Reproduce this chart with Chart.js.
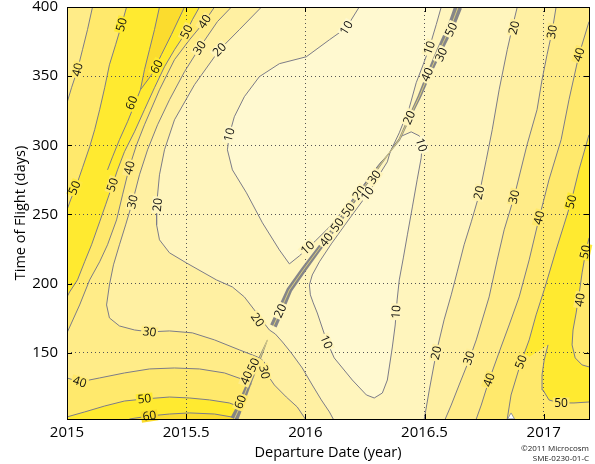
<!DOCTYPE html>
<html>
<head>
<meta charset="utf-8">
<script src="https://cdn.jsdelivr.net/npm/chart.js@4.4.1/dist/chart.umd.min.js"></script>
<style>
  html, body { margin: 0; padding: 0; background: #fff; }
</style>
</head>
<body>
<canvas id="porkchop" width="595" height="464"></canvas>
<script>
// AXES
var xTicks = [2015, 2015.5, 2016, 2016.5, 2017];
var yTicks = [150, 200, 250, 300, 350, 400];
var xMin = 2015, xMax = 2017.19, yMin = 102, yMax = 400;

// CONTOUR LINES ( [departure year, time of flight days])
var c10a = [[2016.226,400],[2016.172,385.0],[2016.101,376.3],[2016.004,364.0],[2015.891,359.0],[2015.807,349.6],[2015.744,335.1],[2015.702,320.6],[2015.681,307.6],[2015.673,296.7],[2015.694,282.2],[2015.753,265.6],[2015.820,243.9],[2015.891,224.3],[2015.933,214.2],[2015.975,220.0],[2016.042,230.8],[2016.097,240.2],[2016.147,250.4],[2016.193,259.8],[2016.239,269.9],[2016.281,280.1],[2016.318,288.0],[2016.344,292.4],[2016.356,295.3],[2016.394,309.0],[2016.436,327.1],[2016.465,345.2],[2016.494,358.2],[2016.520,370.5],[2016.549,387.2],[2016.570,400]];
var c10b = [[2016.356,295.3],[2016.344,288.0],[2016.310,278.6],[2016.268,266.3],[2016.218,254.7],[2016.163,241.7],[2016.109,228.7],[2016.059,215.7],[2016.029,206.2],[2016.017,199.0],[2016.021,191.8],[2016.033,186.0],[2016.050,178.7],[2016.067,170.0],[2016.088,159.2],[2016.121,146.2],[2016.197,130.2],[2016.256,119.4],[2016.289,117.2],[2016.323,120.8],[2016.344,130.2],[2016.365,154.1],[2016.377,170.0],[2016.385,188.1],[2016.394,202.6],[2016.411,218.5],[2016.428,235.2],[2016.449,255.4],[2016.469,275.0],[2016.486,290.9],[2016.490,300.3],[2016.478,306.8],[2016.444,309.7],[2016.406,306.8],[2016.373,300.3],[2016.356,295.3]];
var c20L = [[2015.816,400],[2015.723,383.6],[2015.640,369.1],[2015.535,343.8],[2015.451,318.4],[2015.409,296.7],[2015.388,278.6],[2015.376,256.9],[2015.376,242.4],[2015.388,231.6],[2015.430,222.2],[2015.501,214.9],[2015.627,202.6],[2015.694,197.5],[2015.744,190.3],[2015.786,180.9],[2015.816,173.7],[2015.849,166.4],[2015.874,163.5],[2015.904,157.7],[2015.941,149.8],[2015.987,138.9],[2016.029,126.6],[2016.067,115.8],[2016.101,107.1],[2016.117,102]];
var c20R = [[2016.889,400],[2016.868,385.0],[2016.847,369.1],[2016.813,340.1],[2016.784,311.2],[2016.759,289.5],[2016.729,264.1],[2016.696,244.6],[2016.666,228.0],[2016.637,208.4],[2016.612,191.8],[2016.582,173.7],[2016.549,149.8],[2016.520,123.0],[2016.499,102]];
var c30La = [[2015.690,400],[2015.631,389.4],[2015.556,370.5],[2015.493,353.2],[2015.430,332.9],[2015.380,314.8],[2015.338,296.7],[2015.304,278.6],[2015.275,259.1],[2015.246,242.4],[2015.220,228.0],[2015.195,213.5],[2015.178,199.0],[2015.166,184.5],[2015.178,175.1],[2015.220,169.3],[2015.283,166.4],[2015.346,165.0],[2015.430,165.7],[2015.526,164.3],[2015.619,159.2],[2015.723,152.0],[2015.799,146.9],[2015.820,144.7]];
var c30Lb = [[2015.828,143.3],[2015.841,133.9],[2015.870,126.6],[2015.920,117.9],[2015.966,110.7],[2016.000,102]];
var c30R = [[2017.052,400],[2017.035,382.1],[2017.014,365.5],[2016.993,347.4],[2016.972,325.7],[2016.930,300.3],[2016.876,262.7],[2016.834,238.8],[2016.805,217.1],[2016.771,190.3],[2016.717,159.2],[2016.687,144.7],[2016.645,126.6],[2016.612,112.1],[2016.587,102]];
var c40a = [[2015.107,400],[2015.086,383.6],[2015.065,369.1],[2015.044,354.6],[2015.019,341.6],[2015.000,330.7]];
var c40b = [[2015.619,400],[2015.577,389.4],[2015.514,376.3],[2015.451,361.9],[2015.388,340.1],[2015.325,314.8],[2015.292,300.3],[2015.262,284.4],[2015.233,264.1],[2015.208,246.0],[2015.170,228.0],[2015.137,215.7],[2015.095,202.6],[2015.053,184.5],[2015.000,164.3]];
var c40c = [[2015.000,131.7],[2015.053,128.8],[2015.137,131.7],[2015.241,135.3],[2015.346,138.2],[2015.451,138.9],[2015.556,138.2],[2015.661,135.3],[2015.744,130.2],[2015.774,127.3]];
var c40R = [[2017.190,389.4],[2017.148,365.5],[2017.106,332.9],[2017.073,304.0],[2017.022,275.0],[2016.981,247.5],[2016.939,217.1],[2016.897,190.3],[2016.855,170.0],[2016.821,154.1],[2016.771,130.2],[2016.738,112.1],[2016.717,102]];
var c50a = [[2015.250,400],[2015.229,387.2],[2015.204,372.7],[2015.178,358.2],[2015.158,341.6],[2015.137,325.7],[2015.116,311.2],[2015.095,298.9],[2015.065,283.7],[2015.036,269.2],[2015.015,260.5],[2015.000,253.3]];
var c50b = [[2015.556,400],[2015.526,390.8],[2015.501,382.1],[2015.451,369.1],[2015.409,356.8],[2015.367,341.6],[2015.325,325.7],[2015.283,309.7],[2015.241,295.3],[2015.212,282.2],[2015.191,271.4],[2015.162,256.9],[2015.137,244.6],[2015.103,228.0],[2015.074,215.7],[2015.044,202.6],[2015.011,193.9],[2015.000,190.3]];
var c50c = [[2015.000,103.5],[2015.074,107.1],[2015.158,111.4],[2015.241,115.0],[2015.325,116.5],[2015.430,117.9],[2015.514,117.2],[2015.598,115.8],[2015.681,113.6],[2015.736,110.0]];
var c50R = [[2017.190,307.6],[2017.148,282.2],[2017.115,259.1],[2017.085,242.4],[2017.052,224.3],[2017.002,195.4],[2016.968,177.3],[2016.939,159.2],[2016.905,143.3],[2016.863,119.4],[2016.847,102]];
var c50loop = [[2017.190,233.0],[2017.174,220.7],[2017.161,207.7],[2017.148,191.8],[2017.136,178.7],[2017.123,166.4],[2017.119,155.6],[2017.132,146.2],[2017.161,141.1],[2017.190,139.7]];
var c50C = [[2017.190,114.3],[2017.127,113.6],[2017.064,113.6],[2017.022,115.8],[2016.997,123.0],[2016.993,133.9],[2017.002,144.7],[2017.018,155.6]];
var c60w = [[2015.388,400],[2015.367,383.6],[2015.346,369.1],[2015.325,354.6],[2015.308,340.1],[2015.355,351.0],[2015.396,365.5],[2015.438,380.0],[2015.493,400]];
var c60b = [[2015.262,102],[2015.346,104.2],[2015.430,105.6],[2015.514,106.4],[2015.619,105.6],[2015.690,103.5],[2015.715,102]];

// SINGULAR RIDGES ( 180 deg transfer, contours bunch up )
var ridgeLow = [[2015.841,159.2],[2015.820,150.5],[2015.795,140.4],[2015.769,130.2],[2015.744,119.4],[2015.719,108.5],[2015.702,102]];
var ridgeMid = [[2015.866,169.3],[2015.900,182.4],[2015.933,195.4],[2015.992,209.9],[2016.054,224.3],[2016.117,238.8],[2016.176,253.3],[2016.222,264.1],[2016.268,275.0],[2016.314,285.9],[2016.339,291.6],[2016.356,295.3]];
var ridgeUp = [[2016.356,295.3],[2016.394,304.0],[2016.436,319.9],[2016.478,335.1],[2016.511,348.8],[2016.545,361.9],[2016.578,374.2],[2016.612,386.5],[2016.641,400]];
var tlRidge = [[2015.308,340.1],[2015.283,329.3],[2015.254,317.0],[2015.220,304.0],[2015.191,291.6],[2015.170,282.2]];

var markerPoints = [[2016.863,103.5]];

// CONTOUR LABELS ( text, line it sits on, year, days )
var contourLabels = [
  ['40','c40a',2015.044,354.6], ['50','c50a',2015.229,387.2], ['50','c50a',2015.032,269.2],
  ['60','c60w',2015.376,356.8], ['60','tlRidge',2015.271,330.7],
  ['50','c50b',2015.501,382.1], ['50','c50b',2015.191,271.4],
  ['40','c40b',2015.577,389.4], ['40','c40b',2015.262,283.7],
  ['30','c30La',2015.556,370.5], ['30','c30La',2015.275,259.1], ['30','c30La',2015.346,165.0],
  ['20','c20L',2015.640,369.1], ['20','c20L',2015.380,256.9], ['20','c20L',2015.799,173.7],
  ['10','c10a',2016.172,385.0], ['10','c10a',2015.681,307.6], ['10','c10a',2016.009,225.8], ['10','c10a',2016.520,370.5],
  ['40','c40c',2015.053,128.8], ['50','c50c',2015.325,116.5], ['60','c60b',2015.346,104.2],
  ['40','ridgeLow',2015.753,131.7], ['50','ridgeLow',2015.782,141.1], ['30','c30Lb',2015.828,136.0], ['60','ridgeLow',2015.727,114.3],
  ['40','ridgeMid',2016.088,231.6], ['50','ridgeMid',2016.134,242.4], ['50','ridgeMid',2016.180,253.3],
  ['20','ridgeMid',2016.226,265.6], ['30','ridgeMid',2016.289,276.9], ['20','ridgeMid',2015.895,180.2],
  ['10','c10b',2016.260,265.0],
  ['20','ridgeUp',2016.436,319.9], ['40','ridgeUp',2016.511,351.0], ['30','ridgeUp',2016.570,365.5], ['50','ridgeUp',2016.612,383.6],
  ['10','c10b',2016.486,300.3], ['10','c10b',2016.088,157.7], ['10','c10b',2016.381,179.5],
  ['20','c20R',2016.876,385.0], ['20','c20R',2016.729,265.6], ['20','c20R',2016.549,149.8],
  ['30','c30R',2017.035,382.1], ['30','c30R',2016.876,262.7], ['30','c30R',2016.687,146.2],
  ['40','c40R',2017.148,365.5], ['40','c40R',2016.981,247.5], ['40','c40R',2016.771,130.2],
  ['50','c50R',2017.115,259.1], ['50','c50R',2016.905,143.3],
  ['50','c50loop',2017.174,222.9], ['40','c50loop',2017.152,188.1],
  ['50','c50C',2017.073,113.6]
];

var lineByName = {
  c10a: c10a, c10b: c10b, c20L: c20L, c20R: c20R, c30La: c30La, c30Lb: c30Lb, c30R: c30R,
  c40a: c40a, c40b: c40b, c40c: c40c, c40R: c40R, c50a: c50a, c50b: c50b, c50c: c50c,
  c50R: c50R, c50loop: c50loop, c50C: c50C, c60w: c60w, c60b: c60b,
  ridgeLow: ridgeLow, ridgeMid: ridgeMid, ridgeUp: ridgeUp, tlRidge: tlRidge
};

// band colours: <10, 10-20, 20-30, 30-40, 40-50, 50-60, >60
var bandColors = ['#fff9d0', '#fff5bd', '#fff0a2', '#ffec88', '#ffe96c', '#ffea30', '#fbdc2e'];
var lineColor = '#7c7c88';

// FILLED BANDS ( painted lowest level first )
var lowLeftCorner = [[xMin, yMin], [xMin, yMax]];
var lowRightCorner = [[xMax, yMin], [xMax, yMax]];
var ridgeFoot = ridgeLow[ridgeLow.length - 1];
var bands = [
    [c20L.concat(lowLeftCorner), bandColors[2]],
    [c20R.concat(lowRightCorner), bandColors[2]],
    [c30La.concat(c30Lb, lowLeftCorner), bandColors[3]],
    [c30R.concat(lowRightCorner), bandColors[3]],
    [c40a.concat(c40b.slice().reverse()), bandColors[4]],
    [c40c.concat([ridgeFoot, [xMin, yMin]]), bandColors[4]],
    [c40R.concat([[xMax, yMin]]), bandColors[4]],
    [c50a.concat(c50b.slice().reverse()), bandColors[5]],
    [c50c.concat([ridgeFoot, [xMin, yMin]]), bandColors[5]],
    [c50R.concat([[xMax, yMin]]), bandColors[5]],
    [c50loop, bandColors[4]],
    [c50C.concat(c50R.filter(function (p) { return p[1] < c50C[c50C.length - 1][1]; }), [[xMax, yMin]]), bandColors[4]],
    [c60w, bandColors[6]],
    [c60b, bandColors[6]],
    [c10a, bandColors[0]],
    [c10b, bandColors[0]]
];

function toPx(chart, p) {
    return [chart.scales.x.getPixelForValue(p[0]), chart.scales.y.getPixelForValue(p[1])];
}

function clipArea(chart) {
    var a = chart.chartArea;
    chart.ctx.beginPath();
    chart.ctx.rect(a.left, a.top, a.right - a.left, a.bottom - a.top);
    chart.ctx.clip();
}

function fillPoly(chart, pts, color) {
    var ctx = chart.ctx;
    ctx.beginPath();
    pts.forEach(function (p, i) {
        var q = toPx(chart, p);
        if (i === 0) ctx.moveTo(q[0], q[1]); else ctx.lineTo(q[0], q[1]);
    });
    ctx.closePath();
    ctx.fillStyle = color;
    ctx.fill();
}

// angle of the line nearest to a label, kept readable
function lineAngle(chart, line, q) {
    var best = Infinity, ang = 0;
    for (var i = 0; i < line.length - 1; i++) {
        var a = toPx(chart, line[i]), b = toPx(chart, line[i + 1]);
        var dx = b[0] - a[0], dy = b[1] - a[1];
        var len2 = dx * dx + dy * dy || 1;
        var t = Math.max(0, Math.min(1, ((q[0] - a[0]) * dx + (q[1] - a[1]) * dy) / len2));
        var ex = a[0] + t * dx - q[0], ey = a[1] + t * dy - q[1];
        if (ex * ex + ey * ey < best) { best = ex * ex + ey * ey; ang = Math.atan2(dy, dx); }
    }
    if (ang > Math.PI / 2) ang -= Math.PI;
    if (ang <= -Math.PI / 2) ang += Math.PI;
    return ang;
}

var labelBg = [];

var bandPlugin = {
    id: 'bands',
    beforeDraw: function (chart) {
        var a = chart.chartArea, ctx = chart.ctx;
        ctx.save();
        clipArea(chart);
        ctx.fillStyle = bandColors[1];
        ctx.fillRect(a.left, a.top, a.right - a.left, a.bottom - a.top);
        bands.forEach(function (b) { fillPoly(chart, b[0], b[1]); });
        ctx.restore();
        // colour under each label, used to cut the line behind it
        var dpr = chart.currentDevicePixelRatio || 1;
        labelBg = contourLabels.map(function (l) {
            var q = toPx(chart, [l[2], l[3]]);
            var d = ctx.getImageData(Math.round(q[0] * dpr), Math.round(q[1] * dpr), 1, 1).data;
            return 'rgb(' + d[0] + ',' + d[1] + ',' + d[2] + ')';
        });
    }
};

// tapered bundle of lines along the singular ridges
function drawTaper(chart, line, w0, w1) {
    var ctx = chart.ctx;
    var pts = line.map(function (p) { return toPx(chart, p); });
    var n = pts.length, left = [], right = [];
    for (var i = 0; i < n; i++) {
        var a = pts[Math.max(0, i - 1)], b = pts[Math.min(n - 1, i + 1)];
        var dx = b[0] - a[0], dy = b[1] - a[1], len = Math.hypot(dx, dy) || 1;
        var w = (w0 + (w1 - w0) * i / (n - 1)) / 2;
        left.push([pts[i][0] - dy / len * w, pts[i][1] + dx / len * w]);
        right.push([pts[i][0] + dy / len * w, pts[i][1] - dx / len * w]);
    }
    var poly = left.concat(right.reverse());
    ctx.beginPath();
    poly.forEach(function (q, i) { if (i === 0) ctx.moveTo(q[0], q[1]); else ctx.lineTo(q[0], q[1]); });
    ctx.closePath();
    ctx.fillStyle = 'rgba(128,128,134,0.95)';
    ctx.fill();
    ctx.beginPath();
    pts.forEach(function (q, i) { if (i === 0) ctx.moveTo(q[0], q[1]); else ctx.lineTo(q[0], q[1]); });
    ctx.strokeStyle = 'rgba(250,232,120,0.9)';
    ctx.lineWidth = 0.8;
    ctx.stroke();
}

var ridgePlugin = {
    id: 'ridges',
    afterDatasetsDraw: function (chart) {
        var ctx = chart.ctx;
        ctx.save();
        clipArea(chart);
        drawTaper(chart, ridgeLow, 1, 8);
        drawTaper(chart, ridgeMid, 7, 1);
        drawTaper(chart, ridgeUp, 1, 8);
        ctx.restore();
    }
};

var labelPlugin = {
    id: 'contourLabels',
    afterDatasetsDraw: function (chart) {
        var ctx = chart.ctx;
        ctx.save();
        ctx.font = '12px "Open Sans"';
        ctx.textAlign = 'center';
        ctx.textBaseline = 'middle';
        contourLabels.forEach(function (l, i) {
            var q = toPx(chart, [l[2], l[3]]);
            var ang = lineAngle(chart, lineByName[l[1]], q);
            var w = ctx.measureText(l[0]).width;
            ctx.save();
            ctx.translate(q[0], q[1]);
            ctx.rotate(ang);
            ctx.fillStyle = labelBg[i] || bandColors[1];
            ctx.fillRect(-w / 2 - 1.5, -5.5, w + 3, 11);
            ctx.fillStyle = '#111';
            ctx.fillText(l[0], 0, 0.5);
            ctx.restore();
        });
        ctx.restore();
    }
};

var framePlugin = {
    id: 'frame',
    afterDraw: function (chart) {
        var a = chart.chartArea, ctx = chart.ctx;
        ctx.save();
        ctx.strokeStyle = '#000';
        ctx.lineWidth = 1;
        ctx.strokeRect(Math.round(a.left) + 0.5, Math.round(a.top) + 0.5, Math.round(a.right - a.left), Math.round(a.bottom - a.top));
        ctx.beginPath();
        xTicks.forEach(function (v) {
            var x = Math.round(chart.scales.x.getPixelForValue(v)) + 0.5;
            ctx.moveTo(x, a.bottom); ctx.lineTo(x, a.bottom - 5);
            ctx.moveTo(x, a.top); ctx.lineTo(x, a.top + 5);
        });
        yTicks.forEach(function (v) {
            var y = Math.round(chart.scales.y.getPixelForValue(v)) + 0.5;
            ctx.moveTo(a.left, y); ctx.lineTo(a.left + 5, y);
            ctx.moveTo(a.right, y); ctx.lineTo(a.right - 5, y);
        });
        ctx.stroke();
        ctx.fillStyle = '#222';
        ctx.font = '8px "Open Sans"';
        ctx.textAlign = 'right';
        ctx.fillText('©2011 Microcosm', a.right, 451);
        ctx.fillText('SME-0230-01-C', a.right, 461);
        ctx.restore();
    }
};

// DATASETS
var contourLines = [c10a, c10b, c20L, c20R, c30La, c30Lb, c30R, c40a, c40b, c40c, c40R,
                    c50a, c50b, c50c, c50R, c50loop, c50C, c60w, c60b, tlRidge];

var datasets = contourLines.map(function (line) {
    return {
        data: line.map(function (p) { return { x: p[0], y: p[1] }; }),
        showLine: true,
        borderColor: lineColor,
        borderWidth: 1,
        pointRadius: 0,
        tension: 0,
        fill: false
    };
});

datasets.push({
    data: markerPoints.map(function (p) { return { x: p[0], y: p[1] }; }),
    pointStyle: 'triangle',
    pointRadius: 4,
    backgroundColor: '#ffffff',
    borderColor: '#999999',
    borderWidth: 1
});

var tickFont = { family: 'Open Sans', size: 15 };
var titleFont = { family: 'Open Sans', size: 14.5 };

var ctx = document.getElementById('porkchop').getContext('2d');
var chart = new Chart(ctx, {
    type: 'scatter',
    data: { datasets: datasets },
    options: {
        responsive: false,
        animation: false,
        events: [],
        layout: { padding: { top: 7, right: 6, left: 0, bottom: 0 } },
        plugins: {
            legend: { display: false },
            tooltip: { enabled: false }
        },
        scales: {
            x: {
                type: 'linear',
                min: xMin,
                max: xMax,
                afterBuildTicks: function (s) { s.ticks = xTicks.map(function (v) { return { value: v }; }); },
                afterFit: function (s) { s.height = 45; s.paddingLeft = 0; s.paddingRight = 0; },
                grid: { color: '#555', lineWidth: 1, drawTicks: false },
                border: { display: false, dash: [1, 3] },
                ticks: {
                    autoSkip: false, maxRotation: 0, padding: 5, color: '#000', font: tickFont,
                    callback: function (v) { return String(v); }
                },
                title: { display: true, text: 'Departure Date (year)', color: '#000', font: titleFont, padding: { top: 0, bottom: 2 } }
            },
            y: {
                type: 'linear',
                min: yMin,
                max: yMax,
                afterBuildTicks: function (s) { s.ticks = yTicks.map(function (v) { return { value: v }; }); },
                afterFit: function (s) { s.width = 67; s.paddingTop = 0; s.paddingBottom = 0; },
                grid: { color: '#555', lineWidth: 1, drawTicks: false },
                border: { display: false, dash: [1, 3] },
                ticks: {
                    autoSkip: false, padding: 9, color: '#000', font: tickFont,
                    callback: function (v) { return String(v); }
                },
                title: { display: true, text: 'Time of Flight (days)', color: '#000', font: titleFont, padding: { top: 12, bottom: 0 } }
            }
        }
    },
    plugins: [bandPlugin, ridgePlugin, labelPlugin, framePlugin]
});
</script>
</body>
</html>
